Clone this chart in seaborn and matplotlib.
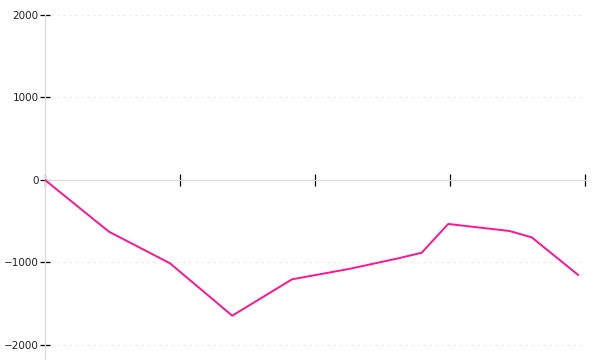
import matplotlib
matplotlib.use("Agg")
import matplotlib.pyplot as plt
import seaborn as sns
import pandas as pd

x_values = [0, 0.474, 0.926, 1.387, 1.83, 2.25, 2.61, 2.79, 2.987, 3.44, 3.605, 3.95]
y_values = [0, -627, -1010, -1645, -1204, -1079, -952, -882, -533, -618, -695, -1152]
y_ticks = [-2000, -1000, 0, 1000, 2000]
x_ticks = [0, 1, 2, 3, 4]

sns.set_style("white")
plt.rcParams['font.family'] = ['DejaVu Sans']

df = pd.DataFrame({"x": x_values, "y": y_values})

fig = plt.figure(figsize=(6, 3.6), dpi=100)
ax = fig.add_axes([0.075, 0.0, 0.9, 345 / 360])

for yv in y_ticks:
    if yv != 0:
        ax.axhline(yv, color="#e8e8e8", lw=0.9, ls=(0, (1.6, 3.2)), zorder=0)

sns.lineplot(data=df, x="x", y="y", ax=ax, color="#ff1493", lw=1.4, zorder=3)

ax.set_xlim(0, 4)
ax.set_ylim(-2182, 2000)
ax.set_xlabel("")
ax.set_ylabel("")

ax.spines["top"].set_visible(False)
ax.spines["right"].set_visible(False)
ax.spines["bottom"].set_position(("data", 0))
ax.spines["bottom"].set_color("#dddddd")
ax.spines["left"].set_color("#dddddd")
ax.spines["bottom"].set_linewidth(1.0)
ax.spines["left"].set_linewidth(1.0)

ax.set_xticks(x_ticks)
ax.set_xticklabels([])
ax.tick_params(axis="x", direction="inout", length=8, width=0.9, color="black", bottom=True)

ax.set_yticks(y_ticks)
ax.set_yticklabels([f"{v:d}".replace("-", "\u2212") for v in y_ticks])
ax.tick_params(axis="y", direction="inout", length=7, width=0.9, color="black", left=True,
               labelsize=7.5, labelcolor="#222222", pad=1)

fig.savefig("out.png", dpi=100)
